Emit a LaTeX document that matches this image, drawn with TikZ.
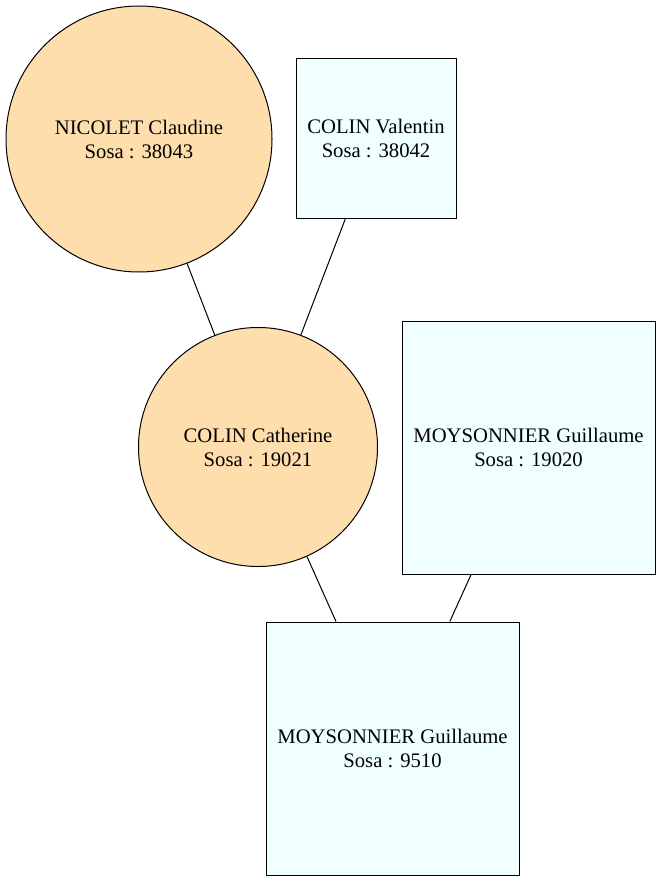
\documentclass[tikz,border=0pt]{standalone}
\usepackage{fontspec}
\setmainfont{Liberation Serif}
\definecolor{navajo}{HTML}{FFDEAD}
\definecolor{azurec}{HTML}{F0FFFF}
\begin{document}
\begin{tikzpicture}[x=0.75pt,y=-0.75pt,
  person/.style={draw,line width=0.75pt,inner sep=0pt,align=center,font=\fontsize{15.5}{18}\selectfont},
  fem/.style={person,circle,fill=navajo},
  masc/.style={person,rectangle,fill=azurec},
  link/.style={line width=0.75pt}]
\useasboundingbox (0,0) rectangle (661,881);
\node[fem,minimum size=199.5pt] (claudine) at (139,139) {NICOLET Claudine\\Sosa : 38043};
\node[masc,minimum width=120pt,minimum height=119.25pt] (valentin) at (376,138.5) {COLIN Valentin\\Sosa : 38042};
\node[fem,minimum size=179.25pt] (catherine) at (258,447) {COLIN Catherine\\Sosa : 19021};
\node[masc,minimum width=189.75pt,minimum height=189.75pt] (guillaumeA) at (528.5,447.5) {MOYSONNIER Guillaume\\Sosa : 19020};
\node[masc,minimum width=189.75pt,minimum height=189.75pt] (guillaumeB) at (392.5,748.5) {MOYSONNIER Guillaume\\Sosa : 9510};
\draw[link] (claudine) -- (catherine);
\draw[link] (valentin) -- (catherine);
\draw[link] (catherine) -- (guillaumeB);
\draw[link] (guillaumeA) -- (guillaumeB);
\end{tikzpicture}
\end{document}
